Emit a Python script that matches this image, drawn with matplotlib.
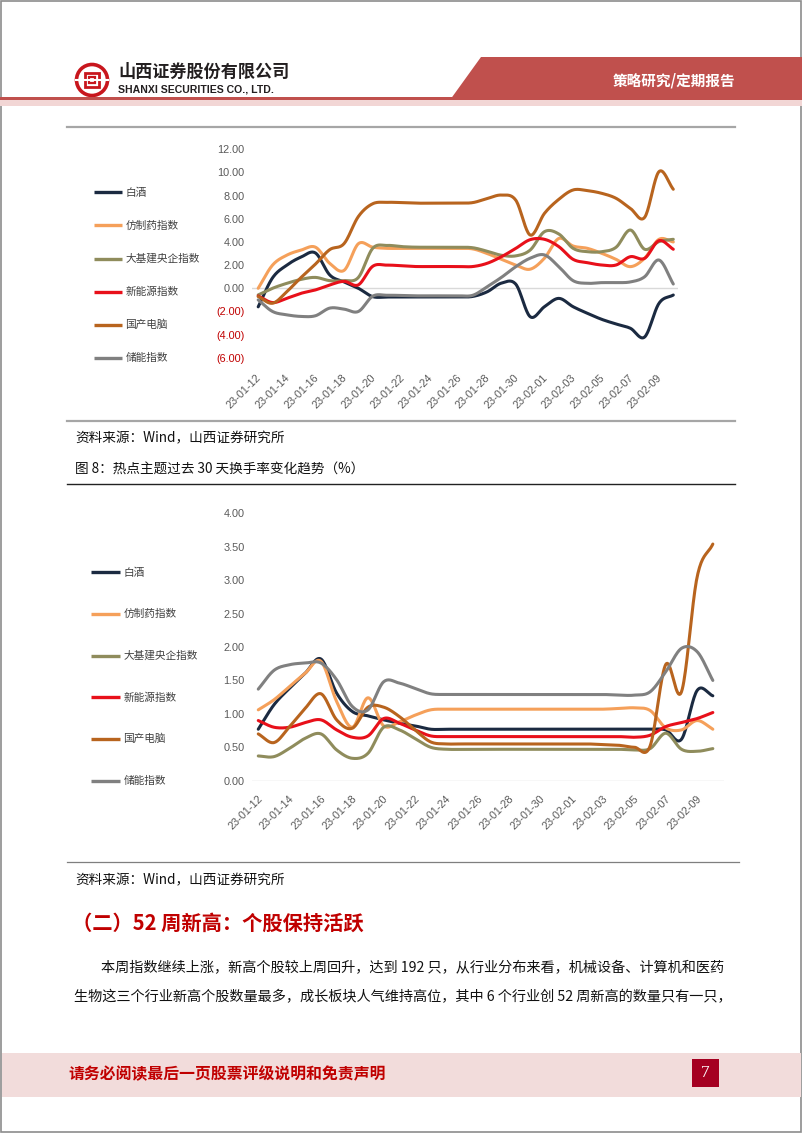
import numpy as np
import matplotlib
matplotlib.use('Agg')
import matplotlib.pyplot as plt
from matplotlib.patches import Rectangle, Polygon, Circle
from matplotlib.transforms import offset_copy

plt.rcParams['font.family'] = ['Noto Sans CJK SC', 'DejaVu Sans']

# ---- data ----
dates = ['23-01-12', '23-01-13', '23-01-14', '23-01-15', '23-01-16', '23-01-17',
         '23-01-18', '23-01-19', '23-01-20', '23-01-21', '23-01-22', '23-01-23',
         '23-01-24', '23-01-25', '23-01-26', '23-01-27', '23-01-28', '23-01-29',
         '23-01-30', '23-01-31', '23-02-01', '23-02-02', '23-02-03', '23-02-04',
         '23-02-05', '23-02-06', '23-02-07', '23-02-08', '23-02-09', '23-02-10']
names = ['白酒', '仿制药指数', '大基建央企指数', '新能源指数', '国产电脑', '储能指数']
colors = ['#1b2a41', '#f5a05a', '#8f8c5c', '#e8101a', '#b8641e', '#808080']

# chart 1: 涨跌幅 (%)
baijiu_ret = [-1.6, 0.9, 2.0, 2.7, 3.05, 1.15, 0.55, 0.0, -0.72, -0.75, -0.75, -0.75, -0.75, -0.75, -0.75,
              -0.7, -0.3, 0.45, 0.35, -2.45, -1.59, -0.87, -1.59, -2.16, -2.68, -3.08, -3.45, -4.2, -1.3, -0.58]
fangzhi_ret = [0.0, 2.0, 2.86, 3.3, 3.55, 2.15, 1.55, 3.85, 3.55, 3.45, 3.45, 3.45, 3.45, 3.45, 3.45,
               3.4, 3.0, 2.5, 2.0, 1.65, 2.6, 4.3, 3.65, 3.45, 3.02, 2.5, 1.87, 2.6, 4.23, 4.0]
jijian_ret = [-0.57, 0.0, 0.43, 0.77, 0.94, 0.66, 0.66, 0.94, 3.45, 3.7, 3.6, 3.55, 3.55, 3.55, 3.55,
              3.5, 3.2, 2.85, 2.8, 3.3, 4.89, 4.69, 3.45, 3.16, 3.16, 3.54, 5.03, 3.37, 4.03, 4.23]
xinneng_ret = [-0.66, -1.23, -0.86, -0.43, -0.14, 0.29, 0.6, 0.3, 1.9, 2.0, 1.95, 1.88, 1.88, 1.88, 1.88,
               1.88, 2.16, 2.73, 3.45, 4.2, 4.23, 3.6, 2.5, 2.21, 2.01, 2.01, 2.73, 2.59, 4.11, 3.37]
diannao_ret = [-0.71, -1.29, -0.29, 0.94, 2.09, 3.34, 3.86, 6.2, 7.3, 7.42, 7.4, 7.35, 7.35, 7.35, 7.35,
               7.4, 7.75, 8.05, 7.6, 4.6, 6.47, 7.68, 8.49, 8.43, 8.2, 7.77, 6.9, 6.13, 10.07, 8.55]
chuneng_ret = [-1.0, -2.0, -2.29, -2.43, -2.37, -1.71, -1.8, -2.0, -0.68, -0.6, -0.62, -0.65, -0.65, -0.65, -0.65,
               -0.6, 0.14, 0.95, 1.87, 2.6, 2.88, 1.87, 0.66, 0.43, 0.49, 0.49, 0.55, 1.0, 2.44, 0.37]

# chart 2: 换手率 (%)
baijiu_to = [0.77, 1.135, 1.385, 1.61, 1.82, 1.31, 1.035, 0.97, 0.91, 0.86, 0.82, 0.77, 0.77, 0.77, 0.77,
             0.77, 0.77, 0.77, 0.77, 0.77, 0.77, 0.77, 0.77, 0.77, 0.77, 0.77, 0.76, 0.62, 1.35, 1.27]
fangzhi_to = [1.06, 1.21, 1.41, 1.61, 1.785, 1.185, 0.8, 1.24, 0.82, 0.88, 0.98, 1.06, 1.07, 1.07, 1.07,
              1.07, 1.07, 1.07, 1.07, 1.07, 1.07, 1.07, 1.07, 1.08, 1.09, 1.05, 0.79, 0.76, 0.9, 0.77]
jijian_to = [0.37, 0.36, 0.485, 0.635, 0.7, 0.46, 0.335, 0.41, 0.8, 0.76, 0.63, 0.5, 0.47, 0.47, 0.47,
             0.47, 0.47, 0.47, 0.47, 0.47, 0.47, 0.47, 0.47, 0.47, 0.46, 0.48, 0.71, 0.47, 0.44, 0.48]
xinneng_to = [0.9, 0.8, 0.8, 0.87, 0.91, 0.76, 0.65, 0.67, 0.93, 0.86, 0.76, 0.67, 0.66, 0.66, 0.66,
              0.66, 0.66, 0.66, 0.66, 0.66, 0.66, 0.66, 0.66, 0.66, 0.65, 0.68, 0.81, 0.87, 0.93, 1.02]
diannao_to = [0.7, 0.57, 0.81, 1.085, 1.3, 0.91, 0.785, 1.1, 1.1, 0.96, 0.76, 0.58, 0.55, 0.55, 0.55,
              0.55, 0.55, 0.55, 0.55, 0.55, 0.55, 0.55, 0.54, 0.53, 0.5, 0.52, 1.74, 1.33, 3.05, 3.54]
chuneng_to = [1.37, 1.65, 1.735, 1.76, 1.76, 1.51, 1.11, 1.06, 1.48, 1.46, 1.38, 1.3, 1.29, 1.29, 1.29,
              1.29, 1.29, 1.29, 1.29, 1.29, 1.29, 1.29, 1.29, 1.28, 1.28, 1.33, 1.63, 1.98, 1.93, 1.5]

ret_series = [baijiu_ret, fangzhi_ret, jijian_ret, xinneng_ret, diannao_ret, chuneng_ret]
to_series = [baijiu_to, fangzhi_to, jijian_to, xinneng_to, diannao_to, chuneng_to]

W, H = 802, 1133
RED = '#c0504d'


def smooth(y, n=20):
    # excel-like smoothed line (catmull-rom)
    y = np.asarray(y, float)
    p = np.concatenate([[2 * y[0] - y[1]], y, [2 * y[-1] - y[-2]]])
    t = np.linspace(0, 1, n, endpoint=False)
    xs, ys = [], []
    for i in range(len(y) - 1):
        p0, p1, p2, p3 = p[i], p[i + 1], p[i + 2], p[i + 3]
        yy = 0.5 * (2 * p1 + (-p0 + p2) * t + (2 * p0 - 5 * p1 + 4 * p2 - p3) * t ** 2
                    + (-p0 + 3 * p1 - 3 * p2 + p3) * t ** 3)
        xs.append(i + t)
        ys.append(yy)
    xs.append([len(y) - 1])
    ys.append([y[-1]])
    return np.concatenate(xs), np.concatenate(ys)


def add_ax(left, right, top, bottom):
    return fig.add_axes([left / W, 1 - bottom / H, (right - left) / W, (bottom - top) / H])


fig = plt.figure(figsize=(8.02, 11.33), dpi=100)

# page layer in pixel coords
bg = fig.add_axes([0, 0, 1, 1])
bg.set_xlim(0, W)
bg.set_ylim(H, 0)
bg.axis('off')

bg.add_patch(Rectangle((0.8, 0.8), W - 1.6, H - 2.2, fill=False, ec='#8c8c8c', lw=1.2))

# header
bg.add_patch(Circle((92, 80), 15.5, fill=False, ec='#c8161d', lw=2.6))
bg.add_patch(Rectangle((85, 73), 14, 14, fill=False, ec='#c8161d', lw=2.0))
bg.add_patch(Rectangle((89, 77), 6, 6, fill=False, ec='#c8161d', lw=1.6))
bg.plot([76, 108], [80, 80], color='white', lw=1.5)
bg.text(118, 72, '山西证券股份有限公司', fontsize=12.3, fontweight='bold', color='#231f20', va='center')
bg.text(118, 89, 'SHANXI SECURITIES CO., LTD.', fontsize=7.6, fontweight='bold', color='#231f20',
        va='center', family=['Liberation Sans', 'DejaVu Sans'])
bg.add_patch(Polygon([(481, 57), (W, 57), (W, 100), (450, 100)], closed=True, color=RED, lw=0))
bg.add_patch(Rectangle((0, 96.8), 452, 3.4, color=RED, lw=0))
bg.add_patch(Rectangle((0, 100.2), W, 5.5, color='#f2d6d5', lw=0))
bg.text(674, 81, '策略研究/定期报告', fontsize=10.5, fontweight='bold', color='white', ha='center', va='center')

bg.plot([66.5, 735], [127, 127], color='#a6a6a6', lw=1.6)


def draw_chart(ax, series, ylo, yhi, step, xl, off_x, off_y, neg_red):
    for vals, c in zip(series, colors):
        sx, sy = smooth(vals)
        ax.plot(sx, sy, color=c, lw=2.2, solid_capstyle='round', clip_on=False)
    ax.axhline(0, color='#d9d9d9', lw=1.0, zorder=0)
    ax.set_xlim(*xl)
    ax.set_ylim(ylo, yhi)
    for s in ax.spines.values():
        s.set_visible(False)
    ax.set_facecolor('none')
    yt = np.arange(ylo, yhi + step / 2, step)
    ax.set_yticks(yt)
    labs = []
    for v in yt:
        labs.append('({:.2f})'.format(-v) if v < 0 else '{:.2f}'.format(v))
    ax.set_yticklabels(labs, family=['Liberation Sans', 'DejaVu Sans'], fontsize=7.8)
    for v, lbl in zip(yt, ax.get_yticklabels()):
        lbl.set_color('#c00000' if (v < 0 and neg_red) else '#595959')
    ax.tick_params(axis='y', length=0, pad=5.5)
    ax.set_xticks([])
    tr = offset_copy(ax.get_xaxis_transform(), fig=fig, x=off_x, y=-off_y, units='dots')
    for i in range(0, len(dates) - 1, 2):
        ax.text(i, 0, dates[i], transform=tr, rotation=45, ha='right', va='top', fontsize=7.8,
                color='#595959', family=['Liberation Sans', 'DejaVu Sans'])


def draw_legend(x0, x1, xt, ys):
    for nm, c, yy in zip(names, colors, ys):
        bg.plot([x0, x1], [yy, yy], color=c, lw=2.4, solid_capstyle='butt')
        bg.text(xt, yy, nm, fontsize=7.7, color='#404040', va='center')


# chart 1
ax1 = add_ax(251.9, 678.3, 149.3, 357.8)
draw_chart(ax1, ret_series, -6, 12, 2, (-0.44, 29.35), 5, 15, True)
draw_legend(94, 122, 125.5, [192.3 + 33.1 * k for k in range(6)])

bg.plot([66.5, 735], [420.7, 420.7], color='#a6a6a6', lw=1.6)
bg.text(75, 438, '资料来源：Wind，山西证券研究所', fontsize=9.8, color='#111111', va='center')
bg.text(75, 470, '图 8：热点主题过去 30 天换手率变化趋势（%）', fontsize=9.8, color='#111111', va='center')
bg.plot([66.5, 735], [484.3, 484.3], color='#222222', lw=1.0)

# chart 2
ax2 = add_ax(252, 723.8, 513.3, 780.7)
draw_chart(ax2, to_series, 0, 4, 0.5, (-0.4, 29.7), 6.5, 12.6, False)
draw_legend(91.4, 120.3, 123.3, [572.3 + 41.7 * k for k in range(6)])

bg.plot([66.5, 739], [861.7, 861.7], color='#7f7f7f', lw=0.9)
bg.text(75, 880, '资料来源：Wind，山西证券研究所', fontsize=9.8, color='#111111', va='center')

# section text
bg.text(72, 923, '（二）52 周新高：个股保持活跃', fontsize=14.6, fontweight='bold', color='#c00000', va='center')
bg.text(101, 968, '本周指数继续上涨，新高个股较上周回升，达到 192 只，从行业分布来看，机械设备、计算机和医药',
        fontsize=10.2, color='#111111', va='center')
bg.text(74, 997, '生物这三个行业新高个股数量最多，成长板块人气维持高位，其中 6 个行业创 52 周新高的数量只有一只，',
        fontsize=10.2, color='#111111', va='center')

# footer
bg.add_patch(Rectangle((1.5, 1053.3), W - 3, 43.4, color='#f2dcdb', lw=0))
bg.text(68, 1074, '请务必阅读最后一页股票评级说明和免责声明', fontsize=11.4, fontweight='bold',
        color='#c00000', va='center')
bg.add_patch(Rectangle((692, 1059), 26.7, 27.7, color='#a50021', lw=0))
bg.text(705.3, 1073, '7', fontsize=12.5, color='white', ha='center', va='center',
        family=['Liberation Serif', 'DejaVu Serif'])

fig.savefig('out.png', dpi=100)
